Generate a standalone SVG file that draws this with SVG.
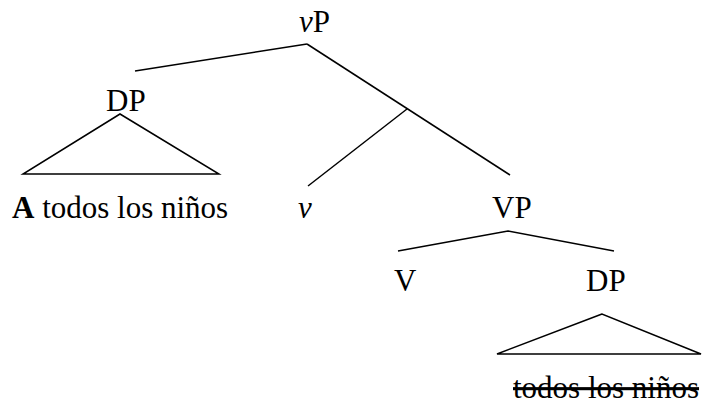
<svg xmlns="http://www.w3.org/2000/svg" width="707" height="401" viewBox="0 0 707 401">
<style>
text{font-family:"Liberation Serif","Times New Roman",serif;font-size:31px;fill:#000}
.e{stroke:#000;stroke-width:1.5;fill:none}
</style>
<rect width="707" height="401" fill="#fff"/>
<g id="connectors">
<line class="e" x1="135" y1="71" x2="307" y2="44"/>
<line class="e" x1="307" y1="44" x2="510" y2="175"/>
<line class="e" x1="407" y1="109" x2="308" y2="186"/>
<polygon class="e" points="120,114 23,174 219,174"/>
<polyline class="e" points="398,251 508,231 614,251"/>
<polygon class="e" points="602,314 497,354 701,354"/>
</g>
<g id="vP"><text x="299" y="32"><tspan font-style="italic">v</tspan>P</text></g>
<g id="DP1"><text x="106" y="111">DP</text></g>
<g id="DP1-leaf"><text x="12" y="218" font-size="31.5"><tspan font-weight="bold">A</tspan> todos los niños</text></g>
<g id="v"><text x="298" y="218" font-style="italic">v</text></g>
<g id="VP"><text x="492" y="218">VP</text></g>
<g id="V"><text x="394" y="291">V</text></g>
<g id="DP2"><text x="586" y="291">DP</text></g>
<g id="DP2-leaf"><text x="513" y="398" font-size="32" text-decoration="line-through">todos los niños</text></g>
</svg>
